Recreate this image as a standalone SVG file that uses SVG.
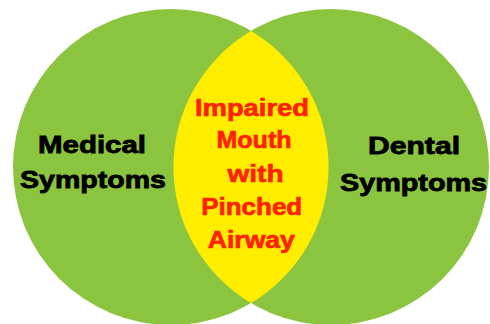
<svg xmlns="http://www.w3.org/2000/svg" width="490" height="324" viewBox="0 0 490 324">
  <style>
    .circle { fill: #8BC540; }
    .lens { fill: #FFED00; }
    .side { font-family: "Liberation Sans", Arial, sans-serif; font-weight: bold; font-size: 23.5px; fill: #000000; stroke: #000000; stroke-width: 0.8px; text-anchor: middle; }
    .mid { font-family: "Liberation Sans", Arial, sans-serif; font-weight: bold; font-size: 24.5px; fill: #FF2200; stroke: #FF2200; stroke-width: 0.7px; text-anchor: middle; }
  </style>
  <rect width="490" height="324" fill="#FFFFFF"/>
  <g id="medical">
    <circle class="circle" cx="171" cy="167" r="158"/>
  </g>
  <g id="dental">
    <circle class="circle" cx="331" cy="167" r="158"/>
  </g>
  <g id="overlap">
    <path class="lens" d="M251,31 A158,158 0 0,1 251,303 A158,158 0 0,1 251,31 Z"/>
  </g>
  <g id="medical-label">
    <text class="side" x="92" y="153" textLength="108" lengthAdjust="spacingAndGlyphs">Medical</text>
    <text class="side" x="93" y="188" textLength="146" lengthAdjust="spacingAndGlyphs">Symptoms</text>
  </g>
  <g id="dental-label">
    <text class="side" x="414" y="154" textLength="92" lengthAdjust="spacingAndGlyphs">Dental</text>
    <text class="side" x="413.5" y="191" textLength="147" lengthAdjust="spacingAndGlyphs">Symptoms</text>
  </g>
  <g id="overlap-label">
    <text class="mid" x="252" y="116" textLength="114" lengthAdjust="spacingAndGlyphs">Impaired</text>
    <text class="mid" x="254" y="148" textLength="75" lengthAdjust="spacingAndGlyphs">Mouth</text>
    <text class="mid" x="255.5" y="182" textLength="56" lengthAdjust="spacingAndGlyphs">with</text>
    <text class="mid" x="251.7" y="215" textLength="101" lengthAdjust="spacingAndGlyphs">Pinched</text>
    <text class="mid" x="251.3" y="248" textLength="87" lengthAdjust="spacingAndGlyphs">Airway</text>
  </g>
  <g id="connectors"></g>
</svg>
